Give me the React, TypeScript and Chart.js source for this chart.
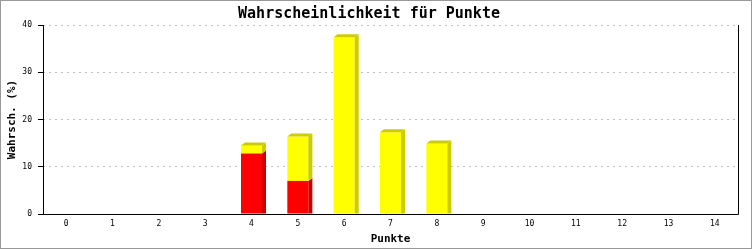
import { useEffect, useRef } from 'react';
import { Chart, registerables } from 'chart.js';

Chart.register(...registerables);

const categories = ['0', '1', '2', '3', '4', '5', '6', '7', '8', '9', '10', '11', '12', '13', '14'];
const seriesRed = [0, 0, 0, 0, 12.8, 7.0, 0, 0, 0, 0, 0, 0, 0, 0, 0];
const seriesYellow = [0, 0, 0, 0, 1.7, 9.4, 37.4, 17.3, 14.9, 0, 0, 0, 0, 0, 0];
const yMin = 0;
const yMax = 40;
const yStep = 10;

const FONT = "'DejaVu Sans Mono', 'Liberation Mono', monospace";
const DX = 4;
const DY = 3;

const bar3d = {
  id: 'bar3d',
  afterDatasetsDraw(chart: any) {
    const ctx = chart.ctx;
    const n = chart.data.labels.length;
    ctx.save();
    for (let i = 0; i < n; i++) {
      const segs: any[] = [];
      chart.data.datasets.forEach((ds: any, di: number) => {
        const v = ds.data[i];
        if (!v) return;
        const el = chart.getDatasetMeta(di).data[i];
        segs.push({ el, side: ds.sideColor });
      });
      segs.forEach((s, k) => {
        const { x, y, base, width } = s.el.getProps(['x', 'y', 'base', 'width'], true);
        const l = x - width / 2;
        const r = x + width / 2;
        ctx.fillStyle = s.side;
        ctx.beginPath();
        ctx.moveTo(r, y);
        ctx.lineTo(r + DX, y - DY);
        ctx.lineTo(r + DX, k === 0 ? base : base - DY);
        ctx.lineTo(r, base);
        ctx.closePath();
        ctx.fill();
        if (k === segs.length - 1) {
          ctx.beginPath();
          ctx.moveTo(l, y);
          ctx.lineTo(l + DX, y - DY);
          ctx.lineTo(r + DX, y - DY);
          ctx.lineTo(r, y);
          ctx.closePath();
          ctx.fill();
        }
      });
    }
    ctx.restore();
  },
  afterDraw(chart: any) {
    const ctx = chart.ctx;
    const a = chart.chartArea;
    ctx.save();
    ctx.setLineDash([]);
    ctx.strokeStyle = '#000';
    ctx.lineWidth = 1;
    ctx.beginPath();
    ctx.moveTo(Math.round(a.right) + 0.5, a.top);
    ctx.lineTo(Math.round(a.right) + 0.5, a.bottom + 0.5);
    ctx.moveTo(Math.round(a.left) - 5, Math.round(a.bottom) + 0.5);
    ctx.lineTo(Math.round(a.right) + 0.5, Math.round(a.bottom) + 0.5);
    ctx.moveTo(Math.round(a.left) + 0.5, a.top);
    ctx.lineTo(Math.round(a.left) + 0.5, a.bottom + 0.5);
    ctx.stroke();
    ctx.strokeStyle = '#999';
    ctx.strokeRect(0.5, 0.5, 751, 248);
    ctx.restore();
  },
};

export default function App() {
  const ref = useRef<HTMLCanvasElement>(null);
  useEffect(() => {
    document.body.style.margin = '0';
    const chart = new Chart(ref.current!, {
      type: 'bar',
      data: {
        labels: categories,
        datasets: [
          {
            label: 'A',
            data: seriesRed,
            backgroundColor: '#ff0000',
            sideColor: '#cc0000',
            borderWidth: 0,
            barPercentage: 0.454,
            categoryPercentage: 1,
          } as any,
          {
            label: 'B',
            data: seriesYellow,
            backgroundColor: '#ffff00',
            sideColor: '#cccc00',
            borderWidth: 0,
            barPercentage: 0.454,
            categoryPercentage: 1,
          } as any,
        ],
      },
      options: {
        responsive: false,
        animation: false,
        devicePixelRatio: 1,
        layout: { padding: { left: 0, right: 15, top: 0, bottom: 0 } },
        plugins: {
          legend: { display: false },
          tooltip: { enabled: false },
          title: {
            display: true,
            text: 'Wahrscheinlichkeit für Punkte',
            color: '#000',
            font: { family: FONT, size: 15, weight: 'bold' },
            padding: { top: 5, bottom: 2 },
          },
        },
        scales: {
          x: {
            stacked: true,
            afterFit: (s: any) => {
              s.height = 36;
            },
            grid: { display: true, drawOnChartArea: false, drawTicks: false },
            border: { display: false },
            ticks: {
              color: '#000',
              font: { family: FONT, size: 8 },
              padding: 5,
              maxRotation: 0,
              autoSkip: false,
            },
            title: {
              display: true,
              text: 'Punkte',
              color: '#000',
              font: { family: FONT, size: 11, weight: 'bold' },
              padding: { top: 0, bottom: 4 },
            },
          },
          y: {
            stacked: true,
            min: yMin,
            max: yMax,
            afterFit: (s: any) => {
              s.width = 43;
            },
            grid: {
              color: '#c0c0c0',
              tickColor: '#000',
              tickBorderDash: [],
              tickLength: 5,
              drawTicks: true,
            } as any,
            border: { display: false, dash: [2, 4] },
            ticks: {
              stepSize: yStep,
              color: '#000',
              font: { family: FONT, size: 8 },
              padding: 6,
            },
            title: {
              display: true,
              text: 'Wahrsch. (%)',
              color: '#000',
              font: { family: FONT, size: 11, weight: 'bold' },
              padding: { top: 6, bottom: 0 },
            },
          },
        },
      } as any,
      plugins: [bar3d],
    });
    return () => chart.destroy();
  }, []);
  return (
    <div style={{ width: 753, height: 250 }}>
      <canvas ref={ref} width={753} height={250} />
    </div>
  );
}
